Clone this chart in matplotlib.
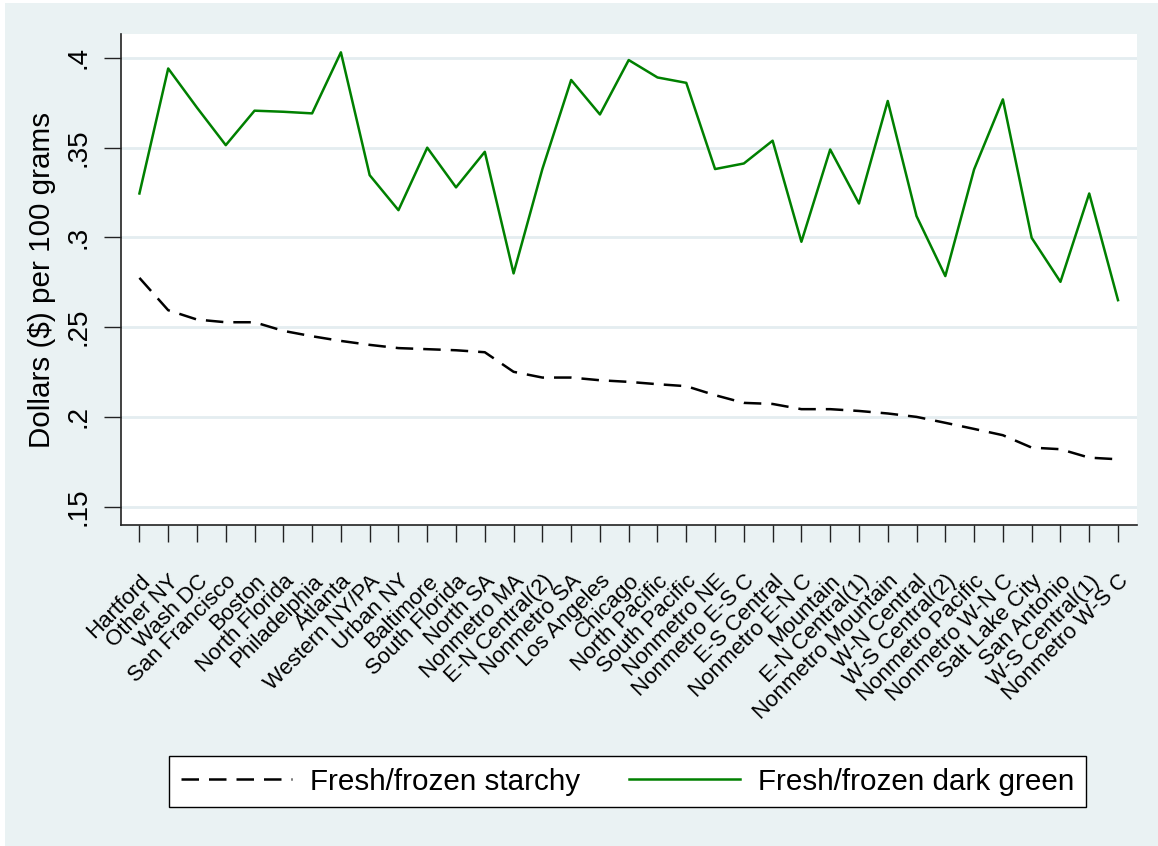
import matplotlib
matplotlib.use("Agg")
import matplotlib.pyplot as plt
from matplotlib.patches import Rectangle
from matplotlib.transforms import ScaledTranslation

plt.rcParams['font.family'] = ['Liberation Sans', 'DejaVu Sans']

# areas, in plotted order
areas = [
    "Hartford", "Other NY", "Wash DC", "San Francisco", "Boston",
    "North Florida", "Philadelphia", "Atlanta", "Western NY/PA", "Urban NY",
    "Baltimore", "South Florida", "North SA", "Nonmetro MA", "E-N Central(2)",
    "Nonmetro SA", "Los Angeles", "Chicago", "North Pacific", "South Pacific",
    "Nonmetro NE", "Nonmetro E-S C", "E-S Central", "Nonmetro E-N C", "Mountain",
    "E-N Central(1)", "Nonmetro Mountain", "W-N Central", "W-S Central(2)",
    "Nonmetro Pacific", "Nonmetro W-N C", "Salt Lake City", "San Antonio",
    "W-S Central(1)", "Nonmetro W-S C",
]

# dollars per 100 grams
starchy = [
    0.2774, 0.2594, 0.2542, 0.2527, 0.2527, 0.2479, 0.2449, 0.2423, 0.2401,
    0.2383, 0.2377, 0.2371, 0.2360, 0.2251, 0.2219, 0.2219, 0.2204, 0.2195,
    0.2182, 0.2171, 0.2121, 0.2078, 0.2072, 0.2043, 0.2043, 0.2033, 0.2019,
    0.2000, 0.1967, 0.1933, 0.1898, 0.1829, 0.1820, 0.1773, 0.1764,
]
dark_green = [
    0.3244, 0.3940, 0.3722, 0.3513, 0.3705, 0.3699, 0.3690, 0.4030, 0.3346,
    0.3151, 0.3499, 0.3278, 0.3476, 0.2799, 0.3380, 0.3876, 0.3684, 0.3987,
    0.3890, 0.3860, 0.3380, 0.3411, 0.3538, 0.2975, 0.3489, 0.3188, 0.3759,
    0.3118, 0.2784, 0.3378, 0.3768, 0.2997, 0.2752, 0.3244, 0.2650,
]

y_ticks = [0.15, 0.2, 0.25, 0.3, 0.35, 0.4]
y_tick_labels = [".15", ".2", ".25", ".3", ".35", ".4"]

bg = '#EAF2F3'
W, H = 1158, 846

fig = plt.figure(figsize=(W / 100, H / 100), dpi=100, facecolor='white')
# light Stata-style background, thin white strip on left/top
fig.patches.append(Rectangle((5 / W, 0), 1, 1 - 3 / H, transform=fig.transFigure,
                             facecolor=bg, edgecolor='none', zorder=-10))

ax = fig.add_axes([121 / W, 1 - 525 / H, (1137 - 121) / W, (525 - 34) / H])
ax.set_facecolor('white')

x = list(range(len(areas)))
ax.plot(x, starchy, color='black', lw=1.8, dashes=(7, 4),
        label='Fresh/frozen starchy', zorder=3)
ax.plot(x, dark_green, color='#008000', lw=1.8,
        label='Fresh/frozen dark green', zorder=3)

ax.set_xlim(-0.64, len(areas) - 1 + 0.66)
ax.set_ylim(0.1398, 0.4132)

ax.set_yticks(y_ticks)
ax.set_yticklabels(y_tick_labels, rotation=90, va='center', fontsize=20)
ax.set_xticks(x)
ax.set_xticklabels(areas, rotation=45, ha='right', va='top',
                   rotation_mode='anchor', fontsize=16)
shift = ScaledTranslation(3 / 100, 0, fig.dpi_scale_trans)
for lab in ax.get_xticklabels():
    lab.set_transform(lab.get_transform() + shift)

ax.grid(axis='y', color='#E4EDF0', lw=2)
ax.set_axisbelow(True)
ax.tick_params(axis='both', direction='out', length=12, width=1, color='#222222')
ax.tick_params(axis='y', pad=9)
ax.tick_params(axis='x', pad=21)

for side in ['top', 'right']:
    ax.spines[side].set_visible(False)
for side in ['left', 'bottom']:
    ax.spines[side].set_color('#222222')
    ax.spines[side].set_linewidth(1.2)

ax.set_ylabel('Dollars ($) per 100 grams', fontsize=21.3, labelpad=7)

leg = fig.legend(loc='center', bbox_to_anchor=(627.5 / W, 1 - 781.5 / H), ncol=2,
                 fontsize=21.3, frameon=True, fancybox=False, framealpha=1,
                 edgecolor='black', handlelength=3.75, handletextpad=0.62,
                 columnspacing=1.65, borderpad=0.38)
leg.get_frame().set_linewidth(1.0)

fig.savefig('out.png', dpi=100, facecolor=fig.get_facecolor())
